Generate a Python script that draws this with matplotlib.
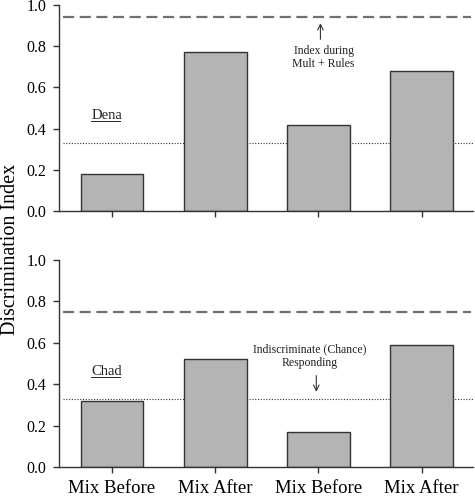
import numpy as np
import matplotlib.pyplot as plt

# ─── Data ─────────────────────────────────────────────────────────────────────
conditions = ["Mix Before", "Mix After", "Mix Before", "Mix After"]
dena_values = [0.18, 0.77, 0.42, 0.68]
chad_values = [0.32, 0.52, 0.17, 0.59]
dena_mult_rules = 0.94
chad_mult_rules = 0.75
chance_level = 0.33

plt.rcParams['font.family'] = ['Liberation Serif', 'DejaVu Serif']

fig = plt.figure(figsize=(4.75, 4.98), dpi=100)
ax_top = fig.add_axes([0.124, 0.576, 0.872, 0.414])
ax_bot = fig.add_axes([0.124, 0.062, 0.872, 0.416])

x = np.arange(len(conditions))


def draw_panel(ax, values, mult_level, name, name_y):
    ax.axhline(chance_level, xmin=0.01, xmax=1.0, color='#333333',
               linestyle=(0, (1, 1.5)), linewidth=0.8, zorder=1)
    ax.axhline(mult_level, xmin=0.01, xmax=0.995, color='#707070',
               linestyle=(0, (5, 2.5)), linewidth=1.6, zorder=1)
    ax.bar(x, values, width=0.61, color='#b4b4b4', edgecolor='#333333',
           linewidth=1.0, zorder=2)
    ax.set_xlim(-0.515, 3.5)
    ax.set_ylim(0, 1.0)
    ax.set_yticks(np.arange(0, 1.01, 0.2))
    ax.set_yticklabels([f"{v:.1f}" for v in np.arange(0, 1.01, 0.2)])
    ax.set_xticks(x)
    for side in ['top', 'right']:
        ax.spines[side].set_visible(False)
    for side in ['left', 'bottom']:
        ax.spines[side].set_color('#333333')
        ax.spines[side].set_linewidth(1.0)
    ax.tick_params(axis='both', direction='out', length=4, width=1.0,
                   color='#333333', labelsize=11.5)
    ax.tick_params(axis='y', pad=5)
    t = ax.text(-0.2, name_y, name, fontsize=10.5, ha='left', va='center',
                color='#222222')
    # underline the name
    ax.plot([-0.2, 0.08], [name_y - 0.03, name_y - 0.03], color='#222222',
            linewidth=0.7)


draw_panel(ax_top, dena_values, dena_mult_rules, "Dena", 0.466)
draw_panel(ax_bot, chad_values, chad_mult_rules, "Chad", 0.463)

ax_top.set_xticklabels([])
ax_bot.set_xticklabels(conditions, fontsize=13.5)
ax_bot.tick_params(axis='x', pad=5)

# annotations
ax_top.annotate("", xy=(2.02, 0.925), xytext=(2.02, 0.82),
                arrowprops=dict(arrowstyle='->', color='#333333', lw=0.8))
ax_top.text(2.05, 0.745, "Index during\nMult + Rules", fontsize=8.5,
            ha='center', va='center', linespacing=1.2, color='#222222')

ax_bot.text(1.92, 0.534, "Indiscriminate (Chance)\nResponding", fontsize=8.5,
            ha='center', va='center', linespacing=1.2, color='#222222')
ax_bot.annotate("", xy=(1.98, 0.35), xytext=(1.98, 0.455),
                arrowprops=dict(arrowstyle='->', color='#333333', lw=0.8))

fig.text(0.022, 0.5, "Discrimination Index", rotation=90, fontsize=14.5,
         ha='center', va='center')

fig.savefig("out.png", dpi=100)
